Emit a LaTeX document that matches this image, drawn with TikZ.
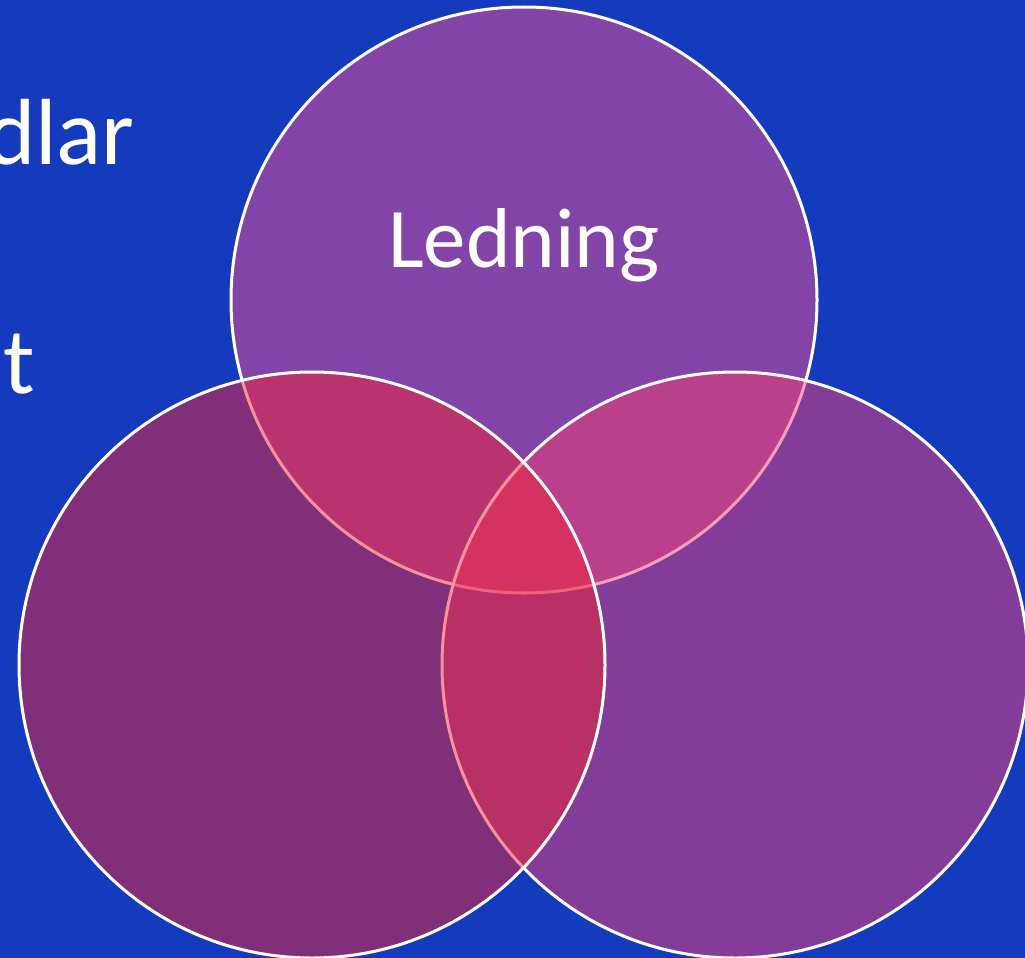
\documentclass[tikz,border=0pt]{standalone}
\usepackage{fontspec}
\setmainfont{Carlito}
\usepackage{tikz}
\usetikzlibrary{positioning}
\definecolor{bgblue}{RGB}{20,58,190}
\definecolor{topfill}{RGB}{240,78,146}
\definecolor{leftfill}{RGB}{240,38,56}
\definecolor{rightfill}{RGB}{242,62,114}

\begin{document}
\begin{tikzpicture}[x=1pt, y=-1pt,
    ring/.style={circle, draw=white, line width=3pt, fill opacity=0.5,
        minimum size=586pt, inner sep=0pt},
    label/.style={text=white, inner sep=0pt, font=\fontsize{85}{100}\selectfont},
    bodytext/.style={label, font=\fontsize{94}{110}\selectfont}]
    \clip (0,0) rectangle (1025,958);
    \fill[bgblue] (0,0) rectangle (1025,958);
    % text on the left, cut by the edge
    \node[bodytext, anchor=base east] (dlar) at (135,164) {dlar};
    \node[bodytext, anchor=base west] (t) at (3,393) {t};
    % the three circles: top first, then right, then left
    \node[ring, fill=topfill] (top) at (524,300) {};
    \node[ring, fill=rightfill] (right) at (735,665) {};
    \node[ring, fill=leftfill] (left) at (312,665) {};
    \node[label, anchor=base] (ledning) at (524,267) {Ledning};
\end{tikzpicture}
\end{document}
